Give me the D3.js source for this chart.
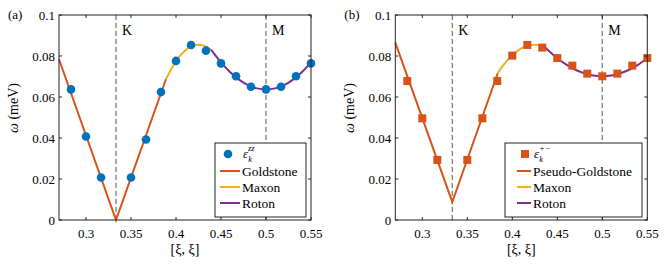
<!doctype html>
<html lang="en">
<head>
  <meta charset="utf-8">
  <title>Dispersion</title>
  <script src="https://d3js.org/d3.v7.min.js"></script>
  <style>
    body { margin: 0; background: #fff; }
  </style>
</head>
<body>
  <div id="chart"></div>
  <script>
    var width = 664, height = 265;

    // momentum points along [xi, xi]
    var kPoints = [0.2833, 0.3, 0.3167, 0.35, 0.3667, 0.3833, 0.4, 0.4167, 0.4333, 0.45, 0.4667, 0.4833, 0.5, 0.5167, 0.5333, 0.55];
    // panel (a) data + fits
    var ezz = [0.0637, 0.0407, 0.0207, 0.0207, 0.0393, 0.0624, 0.0776, 0.0854, 0.0826, 0.0764, 0.0701, 0.065, 0.0637, 0.065, 0.0701, 0.0764];
    var goldK = [0.27, 0.3333, 0.3889];
    var goldW = [0.0784, 0, 0.0688];
    var maxonAK = [0.3889, 0.395, 0.4, 0.405, 0.41, 0.415, 0.42, 0.425, 0.43, 0.435, 0.4389];
    var maxonAW = [0.0688, 0.0738, 0.0775, 0.0804, 0.0826, 0.0842, 0.0852, 0.0855, 0.0852, 0.0842, 0.0831];
    var rotonAK = [0.4389, 0.45, 0.46, 0.47, 0.48, 0.49, 0.5, 0.51, 0.52, 0.53, 0.54, 0.55];
    var rotonAW = [0.0831, 0.0769, 0.0722, 0.0685, 0.0658, 0.0642, 0.0637, 0.0642, 0.0658, 0.0685, 0.0722, 0.0769];
    // panel (b) data + fits
    var epm = [0.0678, 0.0496, 0.0293, 0.0293, 0.0496, 0.0678, 0.0802, 0.0854, 0.0841, 0.079, 0.0753, 0.0714, 0.0701, 0.0714, 0.0753, 0.079];
    var pgoldK = [0.27, 0.3333, 0.3838];
    var pgoldW = [0.0865, 0.0088, 0.0716];
    var maxonBK = [0.3838, 0.39, 0.395, 0.4, 0.405, 0.41, 0.415, 0.42, 0.425, 0.43, 0.4363];
    var maxonBW = [0.0716, 0.0755, 0.0781, 0.0804, 0.0822, 0.0837, 0.0847, 0.0853, 0.0855, 0.0853, 0.0844];
    var rotonBK = [0.4363, 0.45, 0.46, 0.47, 0.48, 0.49, 0.5, 0.51, 0.52, 0.53, 0.54, 0.55];
    var rotonBW = [0.0843, 0.0789, 0.0758, 0.0733, 0.0716, 0.0705, 0.0702, 0.0705, 0.0716, 0.0733, 0.0758, 0.0789];

    var xTicks = [0.3, 0.35, 0.4, 0.45, 0.5, 0.55];
    var xTickLabels = ['0.3', '0.35', '0.4', '0.45', '0.5', '0.55'];
    var yTicks = [0, 0.02, 0.04, 0.06, 0.08, 0.1];
    var yTickLabels = ['0', '0.02', '0.04', '0.06', '0.08', '0.1'];
    var symK = [1 / 3, 0.5];
    var symLabels = ['K', 'M'];

    var blue = '#0072BD', orange = '#D95319', yellow = '#EDB120', purple = '#7E2F8E';
    var serif = '"Liberation Serif", "Times New Roman", "DejaVu Serif", serif';

    var svg = d3.select('#chart').append('svg')
      .attr('width', width).attr('height', height)
      .attr('font-family', serif)
      .style('font-family', serif);

    function zip(a, b) { return a.map(function(d, i) { return [d, b[i]]; }); }

    function panel(o) {
      var x = d3.scaleLinear().domain([0.27, 0.55]).range([o.left, o.left + 252]);
      var y = d3.scaleLinear().domain([0, 0.1]).range([220, 15]);
      var g = svg.append('g');

      // symmetry points K and M
      g.selectAll('.sym').data(symK).enter().append('line')
        .attr('x1', function(d) { return x(d); }).attr('x2', function(d) { return x(d); })
        .attr('y1', y(0)).attr('y2', y(0.1))
        .attr('stroke', '#7a7a7a').attr('stroke-width', 1.3).attr('stroke-dasharray', '5,3');
      g.selectAll('.symt').data(symLabels).enter().append('text')
        .attr('x', function(d, i) { return x(symK[i]) + 6; }).attr('y', 35)
        .style('font-size', '14px').text(function(d) { return d; });

      var straight = d3.line().x(function(d) { return x(d[0]); }).y(function(d) { return y(d[1]); });
      var smooth = d3.line().curve(d3.curveMonotoneX)
        .x(function(d) { return x(d[0]); }).y(function(d) { return y(d[1]); });

      g.append('path').attr('d', straight(zip(o.goldK, o.goldW)))
        .attr('fill', 'none').attr('stroke', orange).attr('stroke-width', 2);
      g.append('path').attr('d', smooth(zip(o.maxK, o.maxW)))
        .attr('fill', 'none').attr('stroke', yellow).attr('stroke-width', 2);
      g.append('path').attr('d', smooth(zip(o.rotK, o.rotW)))
        .attr('fill', 'none').attr('stroke', purple).attr('stroke-width', 2);

      // markers
      if (o.marker === 'circle') {
        g.selectAll('.pt').data(o.pts).enter().append('circle')
          .attr('cx', function(d, i) { return x(kPoints[i]); })
          .attr('cy', function(d) { return y(d); })
          .attr('r', 4.3).attr('fill', blue);
      } else {
        g.selectAll('.pt').data(o.pts).enter().append('rect')
          .attr('x', function(d, i) { return x(kPoints[i]) - 4; })
          .attr('y', function(d) { return y(d) - 4; })
          .attr('width', 8).attr('height', 8).attr('fill', orange);
      }

      // box + inward ticks
      g.append('rect').attr('x', x(0.27)).attr('y', y(0.1))
        .attr('width', x(0.55) - x(0.27)).attr('height', y(0) - y(0.1))
        .attr('fill', 'none').attr('stroke', '#222').attr('stroke-width', 1);
      xTicks.forEach(function(t, i) {
        g.append('line').attr('x1', x(t)).attr('x2', x(t)).attr('y1', y(0)).attr('y2', y(0) - 3).attr('stroke', '#222');
        g.append('line').attr('x1', x(t)).attr('x2', x(t)).attr('y1', y(0.1)).attr('y2', y(0.1) + 3).attr('stroke', '#222');
        g.append('text').attr('x', x(t)).attr('y', 238).attr('text-anchor', 'middle')
          .style('font-size', '13px').text(xTickLabels[i]);
      });
      yTicks.forEach(function(t, i) {
        g.append('line').attr('x1', x(0.27)).attr('x2', x(0.27) + 3).attr('y1', y(t)).attr('y2', y(t)).attr('stroke', '#222');
        g.append('line').attr('x1', x(0.55)).attr('x2', x(0.55) - 3).attr('y1', y(t)).attr('y2', y(t)).attr('stroke', '#222');
        g.append('text').attr('x', x(0.27) - 4).attr('y', y(t) + 4.5).attr('text-anchor', 'end')
          .style('font-size', '13px').text(yTickLabels[i]);
      });

      g.append('text').attr('x', o.left - 51).attr('y', 19).style('font-size', '13px').text(o.tag);

      g.append('text').attr('x', (x(0.27) + x(0.55)) / 2).attr('y', 254)
        .attr('text-anchor', 'middle').style('font-size', '14px').text('[ξ,  ξ]');

      var yl = g.append('text').attr('transform', 'translate(' + (o.left - 41) + ',108) rotate(-90)')
        .attr('text-anchor', 'middle').style('font-size', '14px');
      yl.append('tspan').style('font-style', 'italic').text('ω');
      yl.append('tspan').text(' (meV)');

      // legend
      var lg = g.append('g').attr('transform', 'translate(' + o.legX + ',143)');
      lg.append('rect').attr('width', o.legW).attr('height', 74)
        .attr('fill', '#fff').attr('stroke', '#222').attr('stroke-width', 1);
      var rows = [11, 28, 44, 60];
      var ex = o.legSample;
      if (o.marker === 'circle') {
        lg.append('circle').attr('cx', ex + 8).attr('cy', rows[0]).attr('r', 4.3).attr('fill', blue);
      } else {
        lg.append('rect').attr('x', ex + 4).attr('y', rows[0] - 4).attr('width', 8).attr('height', 8).attr('fill', orange);
      }
      var t0 = lg.append('text').attr('x', ex + o.sampleW + 3).attr('y', rows[0] + 4).style('font-size', '13px');
      t0.append('tspan').style('font-style', 'italic').text('ε');
      t0.append('tspan').attr('dy', 4).style('font-size', '8.5px').style('font-style', 'italic').text('k');
      t0.append('tspan').attr('dx', -4).attr('dy', -11).style('font-size', '8.5px').style('font-style', 'italic').text(o.sup);

      [[o.goldName, orange], ['Maxon', yellow], ['Roton', purple]].forEach(function(r, i) {
        lg.append('line').attr('x1', ex).attr('x2', ex + o.sampleW)
          .attr('y1', rows[i + 1]).attr('y2', rows[i + 1]).attr('stroke', r[1]).attr('stroke-width', 2);
        lg.append('text').attr('x', ex + o.sampleW + 2).attr('y', rows[i + 1] + 4.5)
          .style('font-size', '13.5px').text(r[0]);
      });
    }

    panel({ left: 59, tag: '(a)', marker: 'circle', pts: ezz,
      goldK: goldK, goldW: goldW, maxK: maxonAK, maxW: maxonAW, rotK: rotonAK, rotW: rotonAW,
      legX: 215, legW: 91, legSample: 5, sampleW: 20, sup: 'zz', goldName: 'Goldstone' });
    panel({ left: 395.3, tag: '(b)', marker: 'square', pts: epm,
      goldK: pgoldK, goldW: pgoldW, maxK: maxonBK, maxW: maxonBW, rotK: rotonBK, rotW: rotonBW,
      legX: 505, legW: 137, legSample: 12, sampleW: 14, sup: '+−', goldName: 'Pseudo-Goldstone' });
  </script>
</body>
</html>
